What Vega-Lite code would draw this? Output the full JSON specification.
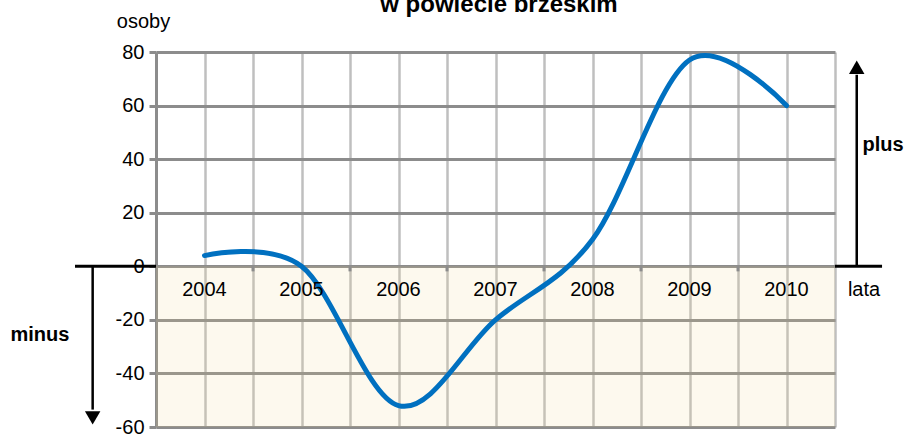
{
  "$schema": "https://vega.github.io/schema/vega-lite/v6.json",
  "width": 679,
  "height": 375,
  "autosize": {"type": "none"},
  "padding": {"left": 156, "top": 52, "right": 70, "bottom": 10},
  "background": "white",
  "config": {
    "view": {"stroke": null},
    "font": "Liberation Sans",
    "axis": {"labelFont": "Liberation Sans", "titleFont": "Liberation Sans"},
    "text": {"font": "Liberation Sans"}
  },
  "datasets": {
    "series": [
      {"year": 2004, "value": 4},
      {"year": 2005, "value": 0},
      {"year": 2006, "value": -52},
      {"year": 2007, "value": -20},
      {"year": 2008, "value": 10},
      {"year": 2009, "value": 77},
      {"year": 2010, "value": 60}
    ],
    "boundaries": [
      {"year": 2004.5}, {"year": 2005.5}, {"year": 2006.5}, {"year": 2007.5}, {"year": 2008.5}, {"year": 2009.5}
    ],
    "zeroext": [
      {"from": 2002.665, "to": 2003.5},
      {"from": 2010.5, "to": 2010.985}
    ],
    "arrows": [
      {"x": 2010.724, "start": 0, "end": 71.5, "head": 74.3, "shape": "triangle-up"},
      {"x": 2002.847, "start": 0, "end": -53.5, "head": -56.6, "shape": "triangle-down"}
    ],
    "boldnotes": [
      {"x": 2010.995, "y": 45.4, "label": "plus"},
      {"x": 2002.304, "y": -25.5, "label": "minus"}
    ],
    "notes": [
      {"x": 2010.799, "y": -8.7, "label": "lata"}
    ],
    "titles": [
      {"x": 2007.036, "y": 95.0, "label": "w powiecie brzeskim"}
    ],
    "band": [
      {"x0": 2003.5, "x1": 2010.5, "y0": 0, "y1": -60}
    ]
  },
  "layer": [
    {
      "data": {"name": "band"},
      "mark": {"type": "rect", "color": "#f0d890", "opacity": 0.15},
      "encoding": {
        "x": {
          "field": "x0", "type": "quantitative",
          "scale": {"domain": [2003.5, 2010.5], "nice": false, "zero": false},
          "axis": {
            "values": [2003.5, 2004, 2004.5, 2005, 2005.5, 2006, 2006.5, 2007, 2007.5, 2008, 2008.5, 2009, 2009.5, 2010, 2010.5],
            "grid": true, "gridColor": "#bfbfbf", "gridWidth": 2.5,
            "labels": false, "ticks": false, "domain": false, "title": null
          }
        },
        "x2": {"field": "x1"},
        "y": {
          "field": "y0", "type": "quantitative",
          "scale": {"domain": [-60, 80], "nice": false, "zero": false},
          "axis": {
            "values": [-60, -40, -20, 0, 20, 40, 60, 80],
            "labelExpr": "datum.value < 0 ? '-' + abs(datum.value) : '' + datum.value",
            "grid": true, "gridColor": "#8c8c8c", "gridWidth": 3,
            "domain": true, "domainColor": "#8c8c8c", "domainWidth": 3,
            "ticks": true, "tickColor": "#8c8c8c", "tickWidth": 3, "tickSize": 7,
            "labelFontSize": 20, "labelColor": "black", "labelPadding": 5,
            "title": "osoby", "titleAngle": 0, "titleX": -13, "titleY": -25,
            "titleAlign": "center", "titleBaseline": "alphabetic",
            "titleFontWeight": "normal", "titleFontSize": 20, "titleColor": "black"
          }
        },
        "y2": {"field": "y1"}
      }
    },
    {
      "data": {"name": "series"},
      "mark": {"type": "line", "interpolate": "cardinal", "color": "#0070c0", "strokeWidth": 5, "strokeCap": "round"},
      "encoding": {
        "x": {"field": "year", "type": "quantitative", "scale": {"domain": [2003.5, 2010.5], "nice": false, "zero": false}},
        "y": {"field": "value", "type": "quantitative", "scale": {"domain": [-60, 80], "nice": false, "zero": false}}
      }
    },
    {
      "data": {"name": "boundaries"},
      "mark": {"type": "rule", "color": "#8c8c8c", "strokeWidth": 3},
      "encoding": {
        "x": {"field": "year", "type": "quantitative", "scale": {"domain": [2003.5, 2010.5], "nice": false, "zero": false}},
        "y": {"datum": 0, "type": "quantitative", "scale": {"domain": [-60, 80], "nice": false, "zero": false}},
        "y2": {"datum": -1.9}
      }
    },
    {
      "data": {"name": "zeroext"},
      "mark": {"type": "rule", "color": "black", "strokeWidth": 3},
      "encoding": {
        "x": {"field": "from", "type": "quantitative", "scale": {"domain": [2003.5, 2010.5], "nice": false, "zero": false}},
        "x2": {"field": "to"},
        "y": {"datum": 0, "type": "quantitative", "scale": {"domain": [-60, 80], "nice": false, "zero": false}}
      }
    },
    {
      "data": {"name": "arrows"},
      "mark": {"type": "rule", "color": "black", "strokeWidth": 2.5},
      "encoding": {
        "x": {"field": "x", "type": "quantitative", "scale": {"domain": [2003.5, 2010.5], "nice": false, "zero": false}},
        "y": {"field": "start", "type": "quantitative", "scale": {"domain": [-60, 80], "nice": false, "zero": false}},
        "y2": {"field": "end"}
      }
    },
    {
      "data": {"name": "arrows"},
      "mark": {"type": "point", "filled": true, "color": "black", "opacity": 1, "size": 240},
      "encoding": {
        "x": {"field": "x", "type": "quantitative", "scale": {"domain": [2003.5, 2010.5], "nice": false, "zero": false}},
        "y": {"field": "head", "type": "quantitative", "scale": {"domain": [-60, 80], "nice": false, "zero": false}},
        "shape": {"field": "shape", "type": "nominal", "scale": null, "legend": null}
      }
    },
    {
      "data": {"name": "series"},
      "mark": {"type": "text", "fontSize": 20, "color": "black", "align": "center", "baseline": "middle"},
      "encoding": {
        "x": {"field": "year", "type": "quantitative", "scale": {"domain": [2003.5, 2010.5], "nice": false, "zero": false}},
        "y": {"datum": -9, "type": "quantitative", "scale": {"domain": [-60, 80], "nice": false, "zero": false}},
        "text": {"field": "year", "type": "quantitative", "format": "d"}
      }
    },
    {
      "data": {"name": "notes"},
      "mark": {"type": "text", "fontSize": 20, "color": "black", "align": "center", "baseline": "middle"},
      "encoding": {
        "x": {"field": "x", "type": "quantitative", "scale": {"domain": [2003.5, 2010.5], "nice": false, "zero": false}},
        "y": {"field": "y", "type": "quantitative", "scale": {"domain": [-60, 80], "nice": false, "zero": false}},
        "text": {"field": "label"}
      }
    },
    {
      "data": {"name": "boldnotes"},
      "mark": {"type": "text", "fontSize": 20, "fontWeight": "bold", "color": "black", "align": "center", "baseline": "middle"},
      "encoding": {
        "x": {"field": "x", "type": "quantitative", "scale": {"domain": [2003.5, 2010.5], "nice": false, "zero": false}},
        "y": {"field": "y", "type": "quantitative", "scale": {"domain": [-60, 80], "nice": false, "zero": false}},
        "text": {"field": "label"}
      }
    },
    {
      "data": {"name": "titles"},
      "mark": {"type": "text", "fontSize": 24, "fontWeight": "bold", "color": "black", "align": "center", "baseline": "alphabetic"},
      "encoding": {
        "x": {"field": "x", "type": "quantitative", "scale": {"domain": [2003.5, 2010.5], "nice": false, "zero": false}},
        "y": {"field": "y", "type": "quantitative", "scale": {"domain": [-60, 80], "nice": false, "zero": false}},
        "text": {"field": "label"}
      }
    }
  ]
}
